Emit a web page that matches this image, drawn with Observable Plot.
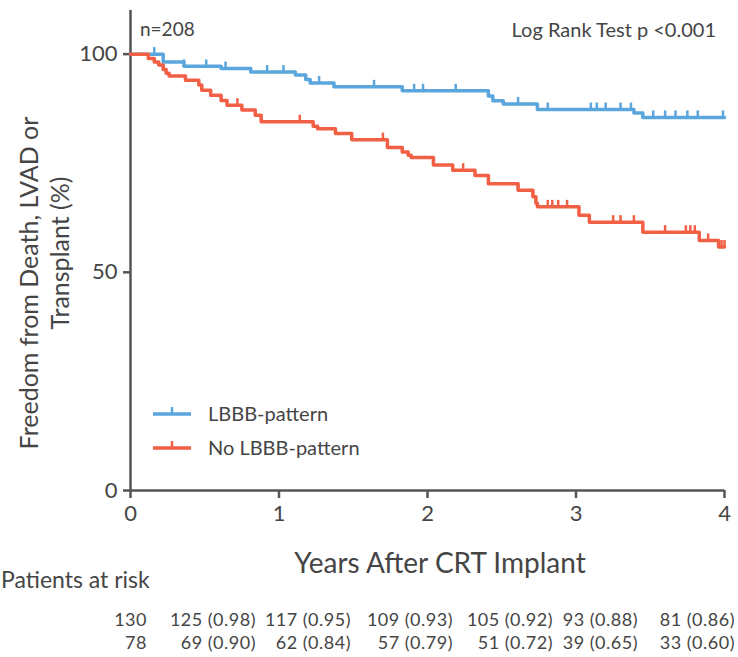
<!DOCTYPE html>
<html><head><meta charset="utf-8">
<script src="https://cdn.jsdelivr.net/npm/d3@7"></script>
<script src="https://cdn.jsdelivr.net/npm/@observablehq/plot@0.6"></script>
<style>
body{margin:0;background:#fff;font-family:Lato,"Open Sans",sans-serif;color:#454545;}
#wrap{position:relative;width:738px;height:657px;overflow:hidden;background:#fff;}
.abs{position:absolute;white-space:nowrap;line-height:1;}
svg{overflow:visible;}
</style></head><body><div id="wrap"></div>
<script>
// ---- data ----
const groups = ["LBBB-pattern", "No LBBB-pattern"];
const colors = ["#5aa6dd", "#f15f45"];
const xTicks = [0, 1, 2, 3, 4];
const yTicks = [0, 50, 100];

const lbbbEventT = [0.22, 0.36, 0.61, 0.81, 1.11, 1.18, 1.21, 1.37, 1.83, 2.41, 2.44, 2.51, 2.74, 3.39, 3.45];
const lbbbEventS = [98.2, 97.2, 96.7, 95.9, 95.2, 94.2, 93.4, 92.5, 91.6, 90.4, 89.3, 88.6, 87.3, 86.5, 85.5];
const lbbbCensor = [0.16, 0.36, 0.51, 0.64, 0.92, 1.03, 1.27, 1.64, 1.91, 1.97, 2.19, 2.61, 2.81, 3.10, 3.14, 3.20, 3.30, 3.37, 3.52, 3.60, 3.67, 3.75, 3.82, 3.99];

const noEventT = [0.12, 0.16, 0.19, 0.22, 0.24, 0.26, 0.37, 0.46, 0.48, 0.54, 0.61, 0.65, 0.75, 0.84, 0.88, 1.23, 1.26, 1.38, 1.49, 1.73, 1.83, 1.87, 1.89, 2.04, 2.17, 2.32, 2.41, 2.61, 2.71, 2.73, 2.74, 3.02, 3.09, 3.45, 3.83, 3.96];
const noEventS = [99.0, 98.2, 97.5, 96.5, 95.6, 95.0, 94.0, 92.9, 91.7, 90.6, 89.4, 88.3, 87.2, 86.0, 84.5, 83.5, 82.9, 81.8, 80.4, 78.6, 77.6, 76.8, 76.3, 74.6, 73.4, 72.2, 70.3, 68.8, 67.3, 65.8, 65.0, 63.1, 61.5, 59.2, 57.3, 55.8];
const noCensor = [0.72, 1.14, 1.70, 2.24, 2.61, 2.71, 2.81, 2.84, 2.88, 2.94, 3.25, 3.30, 3.39, 3.60, 3.74, 3.77, 3.80, 3.89, 3.98, 4.0];

const followUpEnd = 4.0;

const riskLBBB = ["130", "125 (0.98)", "117 (0.95)", "109 (0.93)", "105 (0.92)", "93 (0.88)", "81 (0.86)"];
const riskNo   = ["78", "69 (0.90)", "62 (0.84)", "57 (0.79)", "51 (0.72)", "39 (0.65)", "33 (0.60)"];

// ---- helpers ----
function curve(ts, ss) {
  const pts = [{t: 0, s: 100}];
  ts.forEach((t, i) => pts.push({t, s: ss[i]}));
  pts.push({t: followUpEnd, s: ss[ss.length - 1]});
  return pts;
}
function survAt(ts, ss, t) {
  let s = 100;
  ts.forEach((e, i) => { if (e <= t) s = ss[i]; });
  return s;
}
const lbbbLine = curve(lbbbEventT, lbbbEventS);
const noLine = curve(noEventT, noEventS);
const lbbbCens = lbbbCensor.map(t => ({t, s: survAt(lbbbEventT, lbbbEventS, t)}));
const noCens = noCensor.map(t => ({t, s: survAt(noEventT, noEventS, t)}));

const censorSymbol = {draw(ctx) { ctx.moveTo(0, 0); ctx.lineTo(0, -7); }};

const axisColor = "#555";
const plot = Plot.plot({
  width: 738, height: 535,
  marginLeft: 130, marginRight: 14, marginTop: 10, marginBottom: 45,
  x: {domain: [0, 4]},
  y: {domain: [0, 110]},
  style: {fontFamily: "Lato, 'Open Sans', sans-serif", color: "#454545", background: "#fff", overflow: "visible"},
  marks: [
    Plot.axisY({ticks: yTicks, tickSize: 7, tickPadding: 6, fontSize: 22, label: null, stroke: axisColor, strokeWidth: 2.5}),
    Plot.axisX({ticks: xTicks, tickSize: 8, tickPadding: 7, fontSize: 22, label: null, stroke: axisColor, strokeWidth: 2.5, tickFormat: d => String(d)}),
    Plot.ruleX([0], {y1: 0, y2: 110, stroke: axisColor, strokeWidth: 2.5}),
    Plot.ruleY([0], {stroke: axisColor, strokeWidth: 2.5}),
    Plot.line(lbbbLine, {x: "t", y: "s", curve: "step-after", stroke: colors[0], strokeWidth: 3.5}),
    Plot.dot(lbbbCens, {x: "t", y: "s", symbol: censorSymbol, stroke: colors[0], strokeWidth: 2.5, fill: "none"}),
    Plot.line(noLine, {x: "t", y: "s", curve: "step-after", stroke: colors[1], strokeWidth: 3.5}),
    Plot.dot(noCens, {x: "t", y: "s", symbol: censorSymbol, stroke: colors[1], strokeWidth: 2.5, fill: "none"})
  ]
});

const wrap = document.getElementById("wrap");
plot.style.position = "absolute";
plot.style.left = "0px";
plot.style.top = "0px";
wrap.appendChild(plot);

function addText(txt, css) {
  const d = document.createElement("div");
  d.className = "abs";
  d.textContent = txt;
  Object.assign(d.style, css);
  wrap.appendChild(d);
  return d;
}
// annotations
addText("n=208", {left: "140px", top: "19px", fontSize: "19px"});
addText("Log Rank Test p <0.001", {right: "22px", top: "19px", fontSize: "20px"});
// y title (two rotated lines)
addText("Freedom from Death, LVAD or", {left: "28px", top: "283px", fontSize: "25px", transform: "translate(-50%,-50%) rotate(-90deg)"});
addText("Transplant (%)", {left: "59px", top: "253px", fontSize: "25px", transform: "translate(-50%,-50%) rotate(-90deg)"});
// x title
addText("Years After CRT Implant", {left: "440px", top: "562px", fontSize: "28px", transform: "translate(-50%,-50%)"});
addText("Patients at risk", {left: "1px", top: "568px", fontSize: "23px"});

// legend
[[groups[0], colors[0], 413], [groups[1], colors[1], 447]].forEach(([name, col, y]) => {
  const sw = document.createElementNS("http://www.w3.org/2000/svg", "svg");
  sw.setAttribute("width", "40"); sw.setAttribute("height", "14");
  sw.style.position = "absolute"; sw.style.left = "152px"; sw.style.top = (y - 9) + "px";
  sw.innerHTML = `<line x1="1" x2="39" y1="10" y2="10" stroke="${col}" stroke-width="3.5"/><line x1="20" x2="20" y1="10" y2="3" stroke="${col}" stroke-width="2.5"/>`;
  wrap.appendChild(sw);
  addText(name, {left: "208px", top: (y - 10) + "px", fontSize: "20px"});
});

// risk table (right-aligned columns)
const riskRight = [147, 256, 351, 453, 553, 638, 735];
[[riskLBBB, 610], [riskNo, 633]].forEach(([row, top]) => {
  row.forEach((txt, i) => {
    addText(txt, {right: (738 - riskRight[i]) + "px", top: top + "px", fontSize: "18px", lineHeight: "18px", letterSpacing: "0.5px"});
  });
});
</script></body></html>
